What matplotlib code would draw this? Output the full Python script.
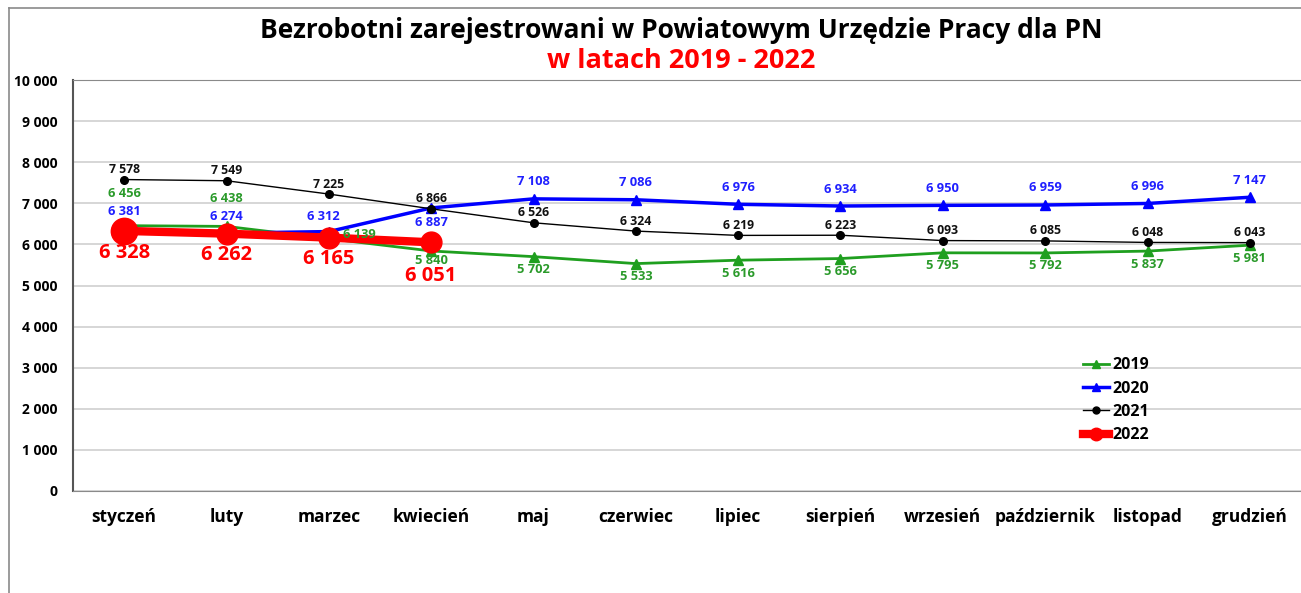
import matplotlib
matplotlib.use("Agg")
import matplotlib.pyplot as plt
from matplotlib.lines import Line2D
from matplotlib.ticker import FuncFormatter

plt.rcParams['font.family'] = ['Open Sans', 'DejaVu Sans']
plt.rcParams['font.weight'] = 'bold'

months = ["styczeń", "luty", "marzec", "kwiecień", "maj", "czerwiec", "lipiec",
          "sierpień", "wrzesień", "październik", "listopad", "grudzień"]
y2019 = [6456, 6438, 6139, 5840, 5702, 5533, 5616, 5656, 5795, 5792, 5837, 5981]
y2020 = [6381, 6274, 6312, 6887, 7108, 7086, 6976, 6934, 6950, 6959, 6996, 7147]
y2021 = [7578, 7549, 7225, 6866, 6526, 6324, 6219, 6223, 6093, 6085, 6048, 6043]
y2022 = [6328, 6262, 6165, 6051]
yticks = list(range(0, 10001, 1000))

W, H = 1301, 593
fig = plt.figure(figsize=(W / 100, H / 100), dpi=100)
ax = fig.add_axes([73 / W, 1 - 491 / H, 1 - 73 / W, (491 - 80) / H])

x = list(range(len(months)))
c19, c20, c21, c22 = "#1f9f1f", "#0000ff", "#000000", "#ff0000"
l19, = ax.plot(x, y2019, color=c19, lw=2, marker="^", ms=7, zorder=3, label="2019")
l20, = ax.plot(x, y2020, color=c20, lw=2.5, marker="^", ms=7, zorder=4, label="2020")
l21, = ax.plot(x, y2021, color=c21, lw=1, marker="o", ms=5.5, zorder=5, label="2021")
l22, = ax.plot(x[:len(y2022)], y2022, color=c22, lw=6, marker="o", ms=15, zorder=6, label="2022")
ax.plot(x[:1], y2022[:1], color=c22, lw=0, marker="o", ms=19, zorder=6)

def fmt(v):
    return f"{v:,}".replace(",", " ")

def lab(xi, v, dx, dy, color, size):
    ax.annotate(fmt(v), (xi, v), xytext=(dx, -dy), textcoords="offset pixels",
                ha="center", va="center", color=color, fontsize=size,
                fontweight="bold", zorder=10)

lc19 = "#2a9a2a"
for i, v in enumerate(y2019):
    if i == 0:
        d = (0, -32)
    elif i == 1:
        d = (0, -28)
    elif i == 2:
        d = (31, -4)
    elif i == 3:
        d = (0, 10)
    else:
        d = (0, 13)
    lab(i, v, d[0], d[1], lc19, 9.3)

for i, v in enumerate(y2020):
    if i == 2:
        d = (-6, -15)
    elif i == 3:
        d = (0, 15)
    else:
        d = (0, -17)
    lab(i, v, d[0], d[1], "#2020ff", 9.3)

for i, v in enumerate(y2021):
    lab(i, v, 0, -10, "#111111", 8.8)

off22 = [22, 21, 21, 34]
for i, v in enumerate(y2022):
    lab(i, v, 0, off22[i], c22, 14.5)

ax.set_xlim(-0.5, 11.5)
ax.set_ylim(0, 10000)
ax.set_yticks(yticks)
ax.yaxis.set_major_formatter(FuncFormatter(lambda v, p: fmt(int(v))))
ax.set_xticks(x)
ax.set_xticklabels(months, fontsize=12.5, fontweight="bold")
ax.tick_params(axis="x", length=0, pad=12)
ax.tick_params(axis="y", length=0, pad=11, labelsize=10)
ax.grid(axis="y", color="#cfcfcf", lw=1.2, zorder=0)
ax.set_axisbelow(True)
ax.spines["right"].set_visible(False)
ax.spines["top"].set_color("#8a8a8a")
ax.spines["bottom"].set_color("#8a8a8a")
ax.spines["left"].set_color("#555555")
ax.spines["left"].set_linewidth(1.5)

leg = ax.legend(handles=[l19, l20, l21, l22], loc="upper left",
                bbox_to_anchor=(1069 / W, 1 - 343 / H), bbox_transform=fig.transFigure,
                frameon=False, numpoints=1, handlelength=1.6, handletextpad=0.2,
                labelspacing=0.46, prop={"size": 11.5, "weight": "bold"})
for h, s in zip(leg.legend_handles, [6, 6, 5, 9]):
    h.set_markersize(s)

fig.text(681 / W, 1 - 30 / H, "Bezrobotni zarejestrowani w Powiatowym Urzędzie Pracy dla PN",
         ha="center", va="center", fontsize=19, fontweight="bold", color="#000000")
fig.text(681 / W, 1 - 61 / H, "w latach 2019 - 2022",
         ha="center", va="center", fontsize=19.5, fontweight="bold", color="#ff0000")

fig.add_artist(Line2D([9 / W, 9 / W], [0, 1 - 8 / H], transform=fig.transFigure, color="#8a8a8a", lw=1.2))
fig.add_artist(Line2D([9 / W, 1], [1 - 8 / H, 1 - 8 / H], transform=fig.transFigure, color="#8a8a8a", lw=1.2))

fig.savefig("out.png", dpi=100)
